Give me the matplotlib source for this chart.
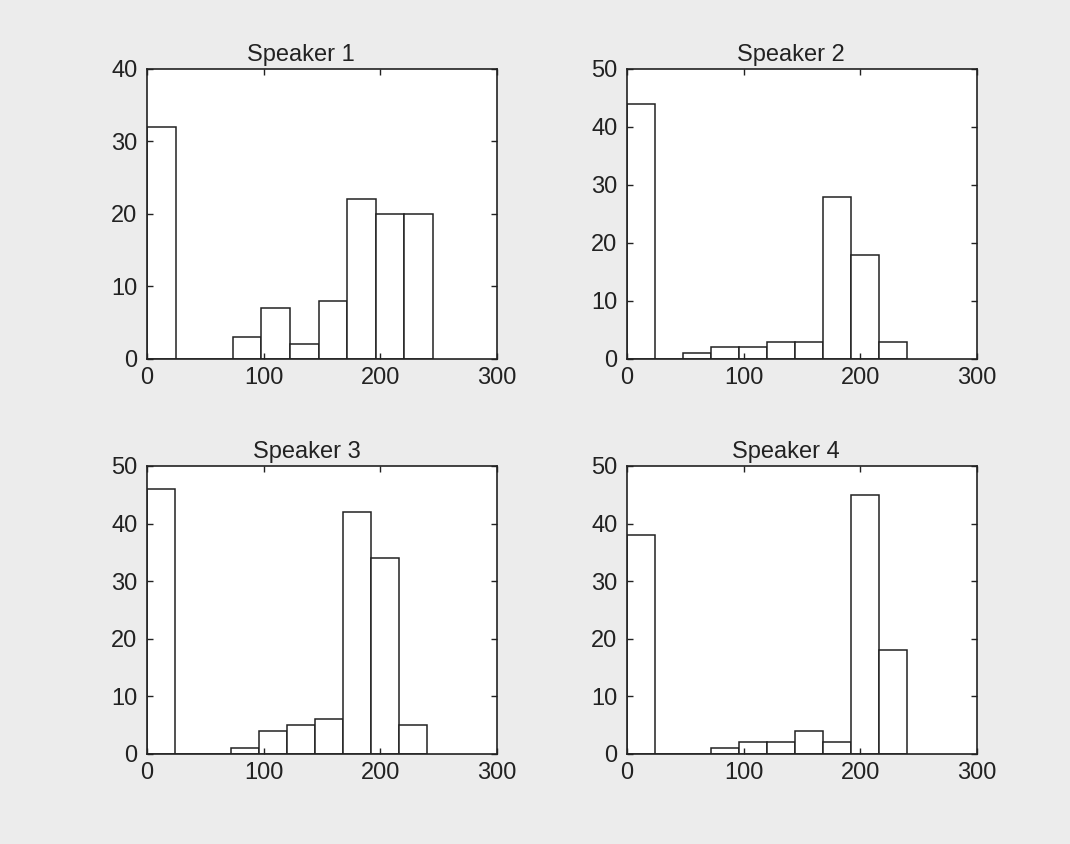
import numpy as np
import matplotlib
matplotlib.use("Agg")
import matplotlib.pyplot as plt

plt.rcParams["font.family"] = ["Liberation Sans", "DejaVu Sans"]

# histogram counts per speaker (10 bins from 0 to the max value)
titles = ["Speaker 1", "Speaker 2", "Speaker 3", "Speaker 4"]
counts1 = [32, 0, 0, 3, 7, 2, 8, 22, 20, 20]
counts2 = [44, 0, 1, 2, 2, 3, 3, 28, 18, 3]
counts3 = [46, 0, 0, 1, 4, 5, 6, 42, 34, 5]
counts4 = [38, 0, 0, 1, 2, 2, 4, 2, 45, 18]
max_vals = [245, 240, 240, 240]
ylims = [40, 50, 50, 50]

all_counts = [counts1, counts2, counts3, counts4]

fig = plt.figure(figsize=(10.7, 8.44), dpi=100, facecolor="#ececec")
W, H = 1070, 844
# axes boxes in pixels: left, top, right, bottom
boxes = [(147, 69, 497, 359), (627, 69, 977, 359),
         (147, 466, 497, 754), (627, 466, 977, 754)]
# title centres, as a fraction of the axes width
title_x = [0.44, 0.469, 0.457, 0.454]

for i in range(4):
    l, t, r, b = boxes[i]
    ax = fig.add_axes([l / W, 1 - b / H, (r - l) / W, (b - t) / H])
    edges = np.linspace(0, max_vals[i], 11)
    ax.bar(edges[:-1], all_counts[i], width=np.diff(edges), align="edge",
           facecolor="white", edgecolor="#222222", linewidth=1.1)
    ax.set_xlim(0, 300)
    ax.set_ylim(0, ylims[i])
    ax.set_xticks([0, 100, 200, 300])
    ax.set_yticks(np.arange(0, ylims[i] + 1, 10))
    ax.tick_params(direction="in", length=4, width=1, labelsize=17,
                   top=True, right=True, colors="#222222")
    ax.tick_params(axis="x", pad=6)
    ax.tick_params(axis="y", pad=7)
    for s in ax.spines.values():
        s.set_linewidth(1.2)
        s.set_color("#222222")
    ax.set_title(titles[i], fontsize=17, pad=6, color="#222222", x=title_x[i])

fig.savefig("out.png", dpi=100, facecolor=fig.get_facecolor())
